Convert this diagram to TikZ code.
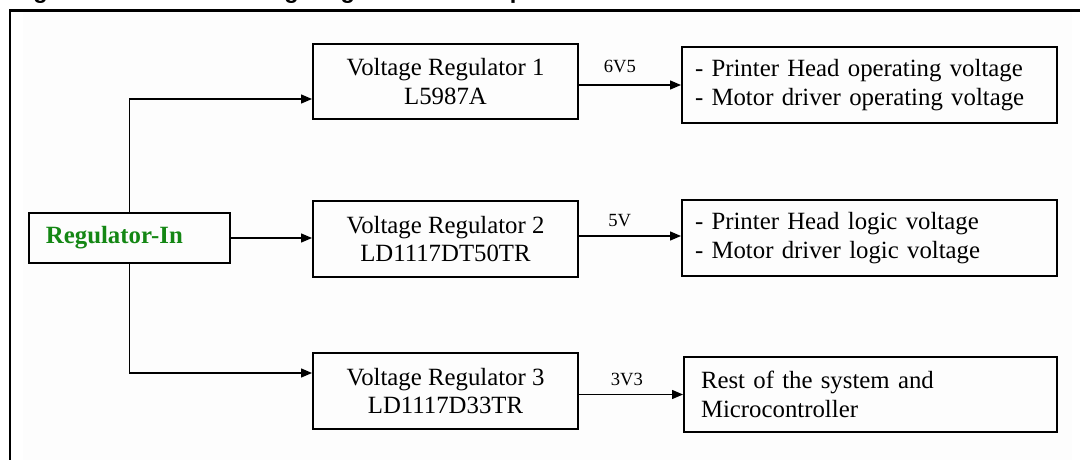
\documentclass[tikz,border=0pt]{standalone}
\usepackage{fontspec}
\setmainfont{Liberation Serif}
\newfontfamily\titlefont{Liberation Sans}
\usetikzlibrary{arrows.meta}
\definecolor{regreen}{RGB}{20,135,20}
\definecolor{panelbg}{RGB}{253,253,253}
\tikzset{
  box/.style={draw, line width=1pt, inner ysep=0pt, font=\fontsize{12.4}{14.4}\selectfont},
  regbox/.style={box, minimum width=132.5pt, minimum height=37.5pt, align=center},
  outbox/.style={box, minimum height=38pt, align=left},
  conn/.style={line width=0.65pt, -{Triangle[length=5.5pt,width=4.5pt]}},
  volt/.style={font=\fontsize{9.3}{11}\selectfont, inner sep=0pt, anchor=south},
  heading/.style={anchor=base west, inner sep=0pt, font=\titlefont\bfseries\fontsize{11.8}{14}\selectfont}
}
\begin{document}
\begin{tikzpicture}[x=0.5pt,y=-0.5pt]
\useasboundingbox (0,0) rectangle (1084,460);
\fill[panelbg] (23,12) rectangle (1072,460);
% heading, cut off at the top edge as in the reference
\begin{scope}
\clip (0,0) rectangle (1084,8.5);
\node[heading] (title1) at (12,-1) {Figure 3.};
\node[heading] (title2) at (228,-1) {Voltage regulators description};
\end{scope}
% frame
\draw[line width=1.2pt] (10,460) -- (10,10.5) -- (1080,10.5);

\node[box, minimum width=100.5pt, minimum height=25pt, text width=83.5pt, inner xsep=8.5pt, align=left, text=regreen, font=\fontsize{12.4}{14.4}\selectfont\bfseries] (in) at (129.5,238) {Regulator-In};

\node[regbox] (vr1) at (445.5,81.5) {Voltage Regulator 1\\L5987A};
\node[regbox, minimum height=38pt] (vr2) at (445.5,239) {Voltage Regulator 2\\LD1117DT50TR};
\node[regbox, minimum height=38pt] (vr3) at (445.5,391) {Voltage Regulator 3\\LD1117D33TR};

\node[outbox, text width=174.5pt, inner xsep=6.5pt] (o1) at (869.5,85) {- Printer Head operating voltage\\- Motor driver operating voltage};
\node[outbox, text width=174.5pt, inner xsep=6.5pt] (o2) at (869.5,238) {- Printer Head logic voltage\\- Motor driver logic voltage};
\node[outbox, text width=169.5pt, inner xsep=8.5pt, minimum height=37.5pt] (o3) at (870.5,394.5) {Rest of the system and\\Microcontroller};

\draw[conn] (in.east) -- (vr2.west |- in.east);
\draw[conn] (in.north) |- ([yshift=-8.75pt]vr1.west);
\draw[conn] (in.south) |- ([yshift=9pt]vr3.west);

\draw[conn] (vr1.east |- o1.west) -- node[volt, pos=0.4, above=6pt] {6V5} (o1.west);
\draw[conn] ([yshift=1pt]vr2.east |- o2.west) -- node[volt, pos=0.4, above=4.5pt] {5V} ([yshift=1pt]o2.west);
\draw[conn] (vr3.east |- o3.west) -- node[volt, pos=0.46, above=4pt] {3V3} (o3.west);
\end{tikzpicture}
\end{document}
